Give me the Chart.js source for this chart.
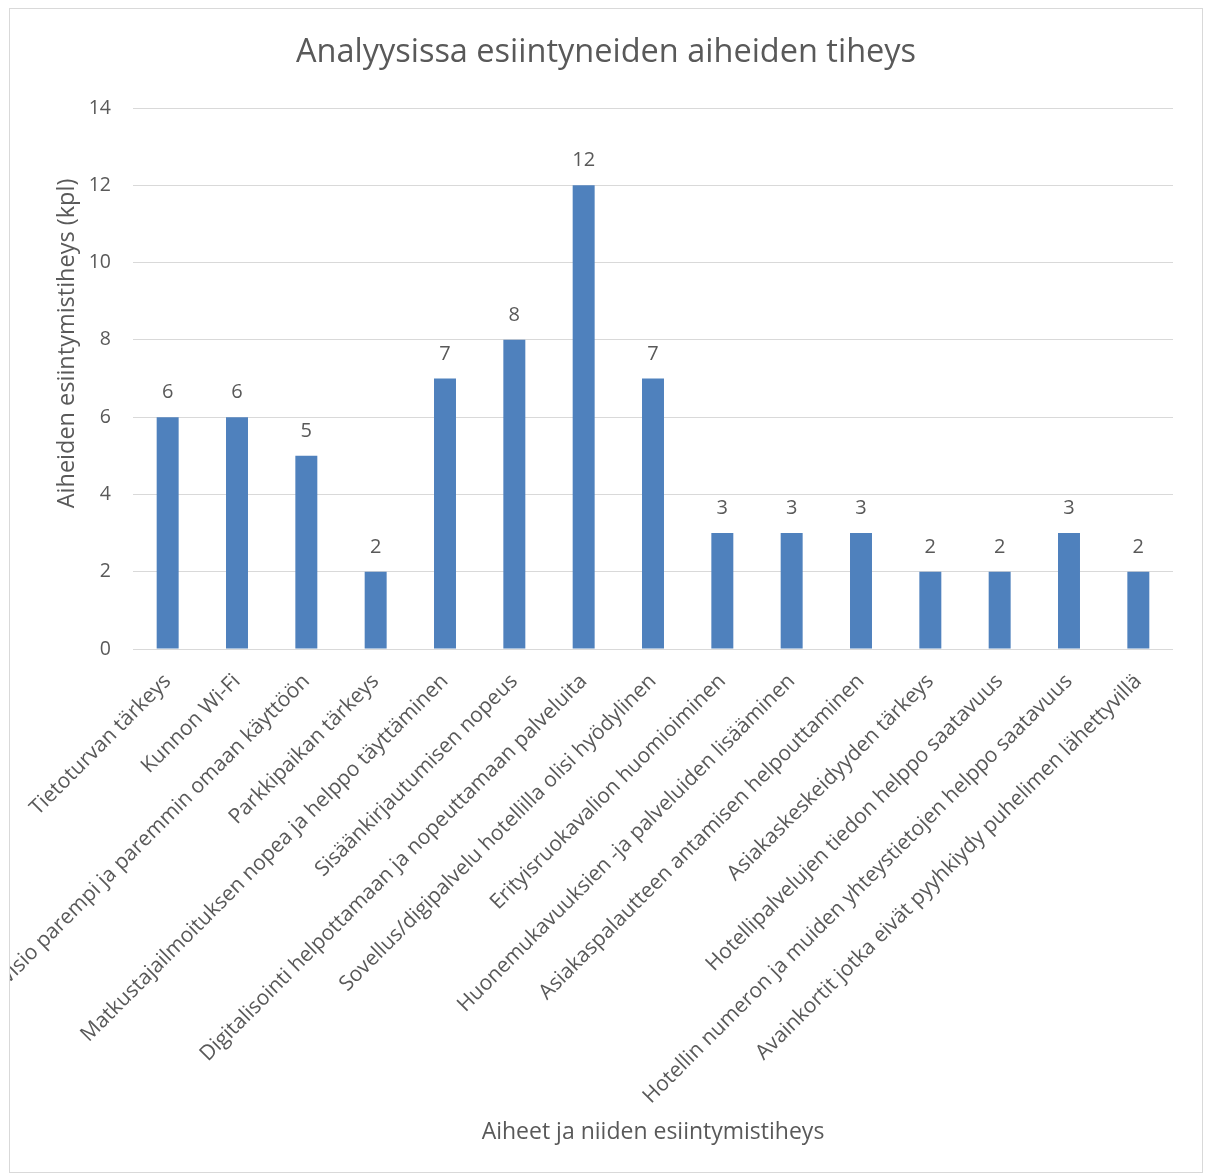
<!DOCTYPE html>
<html lang="fi">
<head>
<meta charset="utf-8">
<title>Analyysissa esiintyneiden aiheiden tiheys</title>
<script src="https://cdn.jsdelivr.net/npm/chart.js@4.4.1/dist/chart.umd.min.js"></script>
<style>
  html, body { margin: 0; padding: 0; background: #ffffff; }
  #frame {
    position: absolute; left: 9px; top: 8px;
    width: 1192px; height: 1163px;
    border: 1px solid #d9d9d9; overflow: hidden; background: #ffffff;
  }
  #chart { display: block; }
</style>
</head>
<body>
<div id="frame"><canvas id="chart" width="1192" height="1163"></canvas></div>
<script>
// Aiheet (categories)
const categories = [
  "Tietoturvan tärkeys",
  "Kunnon Wi-Fi",
  "Televisio parempi ja paremmin omaan käyttöön",
  "Parkkipaikan tärkeys",
  "Matkustajailmoituksen nopea ja helppo täyttäminen",
  "Sisäänkirjautumisen nopeus",
  "Digitalisointi helpottamaan ja nopeuttamaan palveluita",
  "Sovellus/digipalvelu hotellilla olisi hyödylinen",
  "Erityisruokavalion huomioiminen",
  "Huonemukavuuksien -ja palveluiden lisääminen",
  "Asiakaspalautteen antamisen helpouttaminen",
  "Asiakaskeskeidyyden tärkeys",
  "Hotellipalvelujen tiedon helppo saatavuus",
  "Hotellin numeron ja muiden yhteystietojen helppo saatavuus",
  "Avainkortit jotka eivät pyyhkiydy puhelimen lähettyvillä"
];

// Esiintymistiheys (kpl)
const counts = [6, 6, 5, 2, 7, 8, 12, 7, 3, 3, 3, 2, 2, 3, 2];

// Y axis range / ticks
const yMin = 0;
const yMax = 14;
const yStep = 2;

const titleText = "Analyysissa esiintyneiden aiheiden tiheys";
const yTitleText = "Aiheiden esiintymistiheys (kpl)";
const xTitleText = "Aiheet ja niiden esiintymistiheys";

const TEXT = "#595959";
const FONT = "'Open Sans', 'DejaVu Sans', sans-serif";

// Value labels above each bar
const valueLabels = {
  id: "valueLabels",
  afterDatasetsDraw(chart) {
    const ctx = chart.ctx;
    const meta = chart.getDatasetMeta(0);
    ctx.save();
    ctx.fillStyle = TEXT;
    ctx.font = "20px " + FONT;
    ctx.textAlign = "center";
    ctx.textBaseline = "alphabetic";
    meta.data.forEach((bar, i) => {
      ctx.fillText(String(chart.data.datasets[0].data[i]), bar.x, bar.y - 19);
    });
    ctx.restore();
  }
};

// Vertical axis title, placed beside the value axis
const yAxisTitle = {
  id: "yAxisTitle",
  afterDraw(chart) {
    const ctx = chart.ctx;
    const area = chart.chartArea;
    ctx.save();
    ctx.fillStyle = TEXT;
    ctx.font = "23.5px " + FONT;
    ctx.textAlign = "center";
    ctx.textBaseline = "middle";
    ctx.translate(57, (area.top + area.bottom) / 2 - 35);
    ctx.rotate(-Math.PI / 2);
    ctx.fillText(yTitleText, 0, 0);
    ctx.restore();
  }
};

new Chart(document.getElementById("chart"), {
  type: "bar",
  data: {
    labels: categories,
    datasets: [{
      data: counts,
      backgroundColor: "#4f81bd",
      borderWidth: 0,
      categoryPercentage: 1.0,
      barPercentage: 0.317
    }]
  },
  options: {
    responsive: false,
    animation: false,
    layout: { padding: 0 },
    plugins: {
      legend: { display: false },
      tooltip: { enabled: false },
      title: {
        display: true,
        text: titleText,
        color: TEXT,
        font: { family: FONT, size: 32.5, weight: "normal" },
        padding: { top: 24, bottom: 36 }
      }
    },
    scales: {
      x: {
        grid: { display: false },
        border: { display: false },
        ticks: {
          color: TEXT,
          font: { family: FONT, size: 21 },
          autoSkip: false,
          minRotation: 45,
          maxRotation: 45,
          padding: 12
        },
        title: {
          display: true,
          text: xTitleText,
          color: TEXT,
          font: { family: FONT, size: 23 },
          padding: { top: 0, bottom: 26 }
        },
        afterFit(scale) {
          scale.paddingLeft = 0;
          scale.paddingRight = 29;
          scale.height = 523;
        }
      },
      y: {
        min: yMin,
        max: yMax,
        grid: { color: "#d9d9d9", lineWidth: 1, drawTicks: false },
        border: { display: false },
        ticks: {
          stepSize: yStep,
          color: TEXT,
          font: { family: FONT, size: 19.5 },
          padding: 22
        },
        afterFit(scale) {
          scale.width = 123;
        }
      }
    }
  },
  plugins: [valueLabels, yAxisTitle]
});
</script>
</body>
</html>
